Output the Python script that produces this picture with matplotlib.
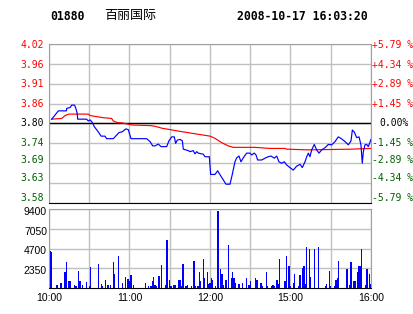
import matplotlib

matplotlib.use("Agg")
import matplotlib.pyplot as plt
from matplotlib.transforms import offset_copy

W, H = 414, 314

stock_code = "01880"
stock_name = "百丽国际"
timestamp = "2008-10-17 16:03:20"
prev_close = 3.80

pct_steps = [5.79, 4.34, 2.89, 1.45, 0.0, -1.45, -2.89, -4.34, -5.79]
price_labels = ["4.02", "3.96", "3.91", "3.86", "3.80", "3.74", "3.69", "3.63", "3.58"]
pct_labels = ["+5.79 %", "+4.34 %", "+2.89 %", "+1.45 %", "0.00%",
              "-1.45 %", "-2.89 %", "-4.34 %", "-5.79 %"]
vol_ticks = [2350, 4700, 7050, 9400]
vol_labels = ["2350", "4700", "7050", "9400"]
time_ticks = [0, 30, 60, 90, 120, 150, 180, 210, 240]
time_labels = ["10:00", "", "11:00", "", "12:00", "", "15:00", "", "16:00"]

# trading minutes since 10:00 (lunch break removed)
price_t = [2, 7, 13, 13.2, 15.7, 17, 19, 20, 21, 21.4, 28, 29.3, 30.6, 32.3, 33.8,
           36.7, 38.8, 41.7, 43, 47.9, 49.2, 52.2, 54.6, 57.2, 59.1, 61.1, 72.8, 75.3,
           77.3, 79, 81.5, 83.5, 87.7, 89.4, 91.5, 93.4, 94.4, 95.6, 97.6, 99.4, 100.1,
           103.8, 105.1, 107.5, 108.8, 110.1, 111.3, 115, 116.3, 119.5, 120.5, 123.7,
           125.7, 127.5, 129.9, 131.9, 134.9, 136.6, 138.6, 139.9, 141.6, 143.1, 144.8,
           147.3, 149.8, 151.1, 153, 154.3, 155.5, 158.5, 161, 163.4, 165.5, 167.9,
           169.7, 171.4, 173.4, 175.4, 177.2, 179.6, 182.1, 184.6, 187.1, 188.8, 190.8,
           192.1, 193.3, 194.5, 195.8, 197.7, 199.5, 201.2, 203.3, 205.7, 208.2, 210.7,
           213.2, 215.6, 217.6, 220.6, 223.1, 225.1, 226.1, 227.6, 229.3, 231.1, 232.5,
           233.5, 234.3, 235.5, 236.8, 238, 240]
price_v = [3.812, 3.835, 3.835, 3.842, 3.844, 3.851, 3.851, 3.842, 3.828, 3.812, 3.812,
           3.807, 3.810, 3.803, 3.791, 3.777, 3.765, 3.765, 3.758, 3.758, 3.763, 3.775,
           3.777, 3.785, 3.783, 3.758, 3.758, 3.750, 3.738, 3.738, 3.743, 3.736, 3.736,
           3.752, 3.763, 3.763, 3.745, 3.754, 3.756, 3.752, 3.729, 3.725, 3.722, 3.725,
           3.716, 3.722, 3.718, 3.715, 3.708, 3.708, 3.659, 3.659, 3.669, 3.658, 3.644,
           3.632, 3.632, 3.659, 3.694, 3.705, 3.710, 3.694, 3.705, 3.718, 3.718, 3.713,
           3.718, 3.713, 3.699, 3.699, 3.704, 3.708, 3.710, 3.704, 3.710, 3.694, 3.690,
           3.694, 3.685, 3.678, 3.671, 3.682, 3.687, 3.678, 3.694, 3.708, 3.718, 3.708,
           3.727, 3.742, 3.727, 3.718, 3.727, 3.733, 3.742, 3.741, 3.750, 3.763, 3.759,
           3.750, 3.741, 3.752, 3.782, 3.776, 3.761, 3.763, 3.741, 3.690, 3.722, 3.741,
           3.742, 3.736, 3.756]

avg_t = [2, 9.5, 11.9, 14.9, 29.3, 30.6, 40.5, 46.7, 47.9, 50.5, 55.4, 61.6, 76.5,
         81.5, 84, 88.9, 96.4, 106.4, 115, 120, 123.7, 128.7, 133.6, 137.4, 153.5,
         164.7, 175.9, 177.2, 193.3, 225.6, 240]
avg_v = [3.812, 3.814, 3.822, 3.826, 3.826, 3.822, 3.816, 3.814, 3.807, 3.803, 3.801,
         3.796, 3.794, 3.790, 3.787, 3.784, 3.779, 3.773, 3.768, 3.765, 3.759, 3.747,
         3.738, 3.734, 3.734, 3.731, 3.731, 3.729, 3.727, 3.729, 3.731]

vol_t = [1, 2, 6, 9, 12, 13, 15, 16, 19, 20, 22, 23, 25, 28, 30, 31, 37, 39, 40, 42,
         44, 46, 48, 49, 52, 55, 57, 59, 60, 61, 63, 72, 74, 76, 77, 78, 79, 80, 82,
         84, 87, 88, 90, 91, 93, 94, 97, 98, 99, 100, 102, 103, 106, 108, 109, 111,
         112, 113, 115, 116, 118, 119, 120, 121, 122, 124, 126, 128, 129, 130, 132,
         134, 136, 137, 138, 139, 141, 142, 144, 147, 149, 150, 154, 155, 158, 159,
         162, 163, 166, 167, 168, 170, 171, 172, 176, 177, 179, 180, 182, 183, 186,
         187, 189, 190, 191, 192, 194, 195, 198, 201, 206, 207, 209, 210, 213, 214,
         215, 216, 222, 224, 225, 227, 228, 230, 231, 232, 233, 236, 237, 239, 240]
vol_v = [4400, 4300, 300, 600, 1850, 3150, 870, 800, 400, 200, 1970, 800, 400, 750,
         200, 2440, 2880, 500, 250, 950, 300, 400, 3150, 1670, 3840, 650, 1300, 1100,
         850, 1550, 400, 600, 200, 200, 870, 1300, 400, 250, 1400, 2750, 400, 5750,
         900, 250, 300, 300, 900, 1000, 250, 2880, 250, 400, 250, 3250, 250, 250, 1860,
         800, 3500, 1180, 1860, 500, 650, 1180, 900, 250, 9200, 2300, 1670, 400, 1000,
         5150, 1180, 1860, 1180, 600, 500, 500, 650, 1180, 300, 870, 1180, 950, 600,
         250, 1860, 250, 250, 400, 250, 1000, 500, 3400, 870, 3850, 2640, 250, 650,
         1670, 250, 1550, 2370, 2640, 500, 4850, 4650, 1260, 4650, 4850, 250, 500,
         1970, 250, 250, 1000, 1180, 3250, 2300, 400, 3150, 870, 800, 1860, 2640, 2560,
         4650, 400, 2300, 1670, 500]

RED = "#ff0000"
GREEN = "#006000"
GRID = "#c0c0c0"
EDGE = "#a0a0a0"
MONO = "DejaVu Sans Mono"
SANS = "Liberation Sans"

fig = plt.figure(figsize=(W / 100, H / 100), dpi=100)
fig.patch.set_facecolor("white")

# header
fig.text(50 / W, 1 - 17 / H, stock_code, family=MONO, weight="bold", fontsize=8.3,
         va="center", ha="left")
fig.text(104 / W, 1 - 16 / H, stock_name, family="Noto Sans CJK SC", fontsize=9.4,
         va="center", ha="left")
fig.text(237 / W, 1 - 17 / H, timestamp, family=MONO, weight="bold", fontsize=8.3,
         va="center", ha="left")

# price panel
ax = fig.add_axes([49 / W, 1 - 203 / H, 322 / W, 159 / H])
price_ticks = [prev_close * (1 + p / 100) for p in pct_steps]
ax.plot(avg_t, avg_v, color=RED, lw=0.85, zorder=3)
ax.plot(price_t, price_v, color="#0000ff", lw=0.85, zorder=4)
ax.axhline(prev_close, color="black", lw=1.0, zorder=2)
ax.set_xlim(0, 240)
ax.set_ylim(price_ticks[-1], price_ticks[0])
ax.set_xticks(time_ticks)
ax.set_yticks(price_ticks)
ax.set_xticklabels([])
ax.set_yticklabels([])
ax.tick_params(length=0)
ax.grid(True, color=GRID, lw=1.0)
for side in ("left", "right", "top"):
    ax.spines[side].set_color(EDGE)
ax.spines["bottom"].set_color("black")

nudges = [-1, -1, 0, 0, 0, 0, 3, 5, 5]
for val, lab, plab, p, dy in zip(price_ticks, price_labels, pct_labels, pct_steps, nudges):
    col = RED if p > 0 else (GREEN if p < 0 else "black")
    tl = offset_copy(ax.get_yaxis_transform(), fig=fig, x=-5, y=dy, units="dots")
    ax.text(0, val, lab, transform=tl, ha="right", va="center", family=MONO,
            fontsize=7, color=col)
    dx = 8 if p == 0 else 1
    tr = offset_copy(ax.get_yaxis_transform(), fig=fig, x=dx, y=dy, units="dots")
    ax.text(1, val, plab, transform=tr, ha="left", va="center", family=MONO,
            fontsize=7, color=col)

# volume panel
axv = fig.add_axes([49 / W, 1 - 288 / H, 322 / W, 79 / H])
axv.bar(vol_t, vol_v, width=1.0, color="#0000ff", linewidth=0, antialiased=False,
        zorder=3)
axv.set_xlim(0, 240)
axv.set_ylim(0, vol_ticks[-1])
axv.set_xticks(time_ticks)
axv.set_xticklabels(time_labels, family=SANS, fontsize=7.5)
axv.set_yticks(vol_ticks)
axv.set_yticklabels([])
axv.tick_params(length=0)
axv.tick_params(axis="x", pad=3.5)
axv.grid(True, color=GRID, lw=1.0)
for side in ("left", "right", "top"):
    axv.spines[side].set_color(EDGE)
axv.spines["bottom"].set_color("black")
for val, lab in zip(vol_ticks, vol_labels):
    tl = offset_copy(axv.get_yaxis_transform(), fig=fig, x=-2, y=-3, units="dots")
    axv.text(0, val, lab, transform=tl, ha="right", va="center", family=SANS,
             fontsize=7.5, color="black")

fig.savefig("out.png", dpi=100)
